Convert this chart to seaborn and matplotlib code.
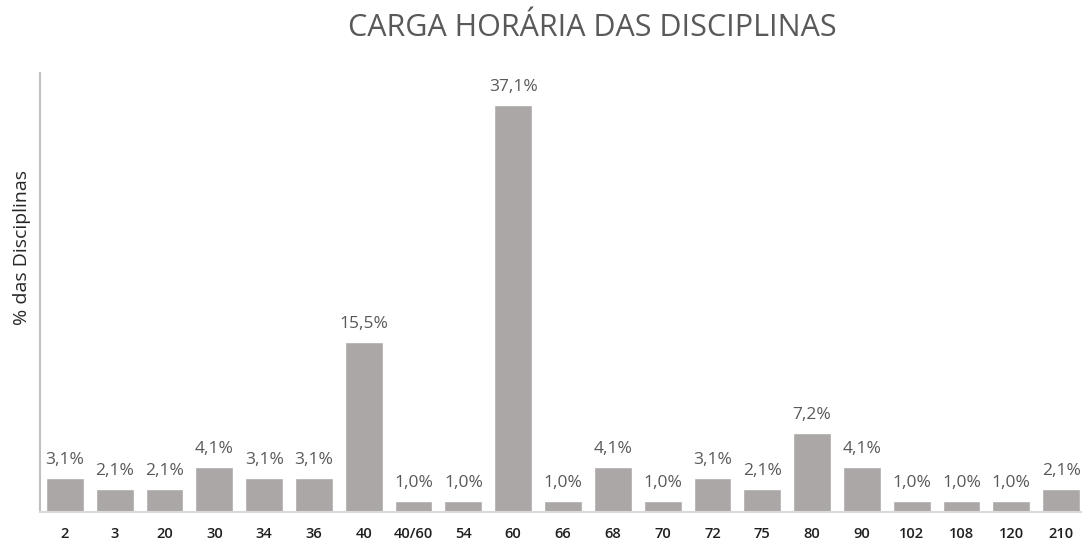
import matplotlib
matplotlib.use("Agg")
import matplotlib.pyplot as plt
import seaborn as sns
import pandas as pd

categories = ["2", "3", "20", "30", "34", "36", "40", "40/60", "54", "60", "66",
              "68", "70", "72", "75", "80", "90", "102", "108", "120", "210"]
values = [3.1, 2.1, 2.1, 4.1, 3.1, 3.1, 15.5, 1.0, 1.0, 37.1, 1.0,
          4.1, 1.0, 3.1, 2.1, 7.2, 4.1, 1.0, 1.0, 1.0, 2.1]
title = "CARGA HORÁRIA DAS DISCIPLINAS"
ylabel = "% das Disciplinas"

sns.set_theme(style="white")
plt.rcParams["font.family"] = ["Open Sans", "DejaVu Sans"]

df = pd.DataFrame({"cat": categories, "val": values})

fig = plt.figure(figsize=(10.82, 5.43), dpi=100)
ax = fig.add_axes([40 / 1082, 31 / 543, 1046 / 1082, 439 / 543])

sns.barplot(data=df, x="cat", y="val", color="#aba7a6", saturation=1,
            width=0.76, ax=ax, order=categories)

ax.set_ylim(0, 40)
ax.set_xlim(-0.5, len(categories) - 0.5)
ax.set_xlabel("")
ax.set_ylabel("")
ax.set_yticks([])
ax.tick_params(axis="x", length=0, pad=11)
for lab in ax.get_xticklabels():
    lab.set_fontsize(10.5)
    lab.set_fontweight("semibold")
    lab.set_color("#1f1f1f")

for sp in ["top", "right"]:
    ax.spines[sp].set_visible(False)
ax.spines["left"].set_color("#bfbfbf")
ax.spines["left"].set_linewidth(1.5)
ax.spines["bottom"].set_color("#d9d9d9")
ax.spines["bottom"].set_linewidth(1.5)

for i, v in enumerate(values):
    ax.annotate(f"{v:.1f}%".replace(".", ","), xy=(i, v), xytext=(0, 7),
                textcoords="offset points", ha="center", va="bottom",
                fontsize=12.5, color="#595959")

fig.text(592 / 1082, 1 - 28 / 543, title, ha="center", va="center",
         fontsize=22, color="#595959")
fig.text(22 / 1082, 1 - 247 / 543, ylabel, ha="center", va="center",
         rotation=90, fontsize=14, color="#262626")

fig.savefig("out.png", dpi=100)
